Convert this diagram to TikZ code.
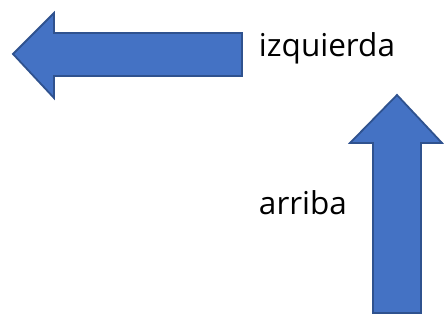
\documentclass[tikz,border=0pt]{standalone}
\usepackage{fontspec}
\setmainfont{Open Sans}
\usepackage{tikz}
\usetikzlibrary{positioning}

\definecolor{arrowfill}{HTML}{4472C4}
\definecolor{arrowline}{HTML}{2F528F}

\begin{document}
\begin{tikzpicture}[x=1pt,y=-1pt,
    bigarrow/.style={fill=arrowfill,draw=arrowline,line width=1.8pt,line join=miter},
    label/.style={font=\fontsize{31.5}{36}\selectfont,inner sep=0pt}]
          \useasboundingbox (0,0) rectangle (444,320);
          % izquierda
          \draw[bigarrow] (13,54) -- (54,13) -- (54,33) -- (242,33)
            -- (242,76) -- (54,76) -- (54,98) -- cycle;
          % arriba
          \draw[bigarrow] (397,95) -- (442,143) -- (421,143) -- (421,313)
            -- (373,313) -- (373,143) -- (350,143) -- cycle;
          \node[label,anchor=base] (izq) at (327,57) {izquierda};
          \node[label,anchor=base] (arr) at (303,215) {arriba};
        \end{tikzpicture}
\end{document}
